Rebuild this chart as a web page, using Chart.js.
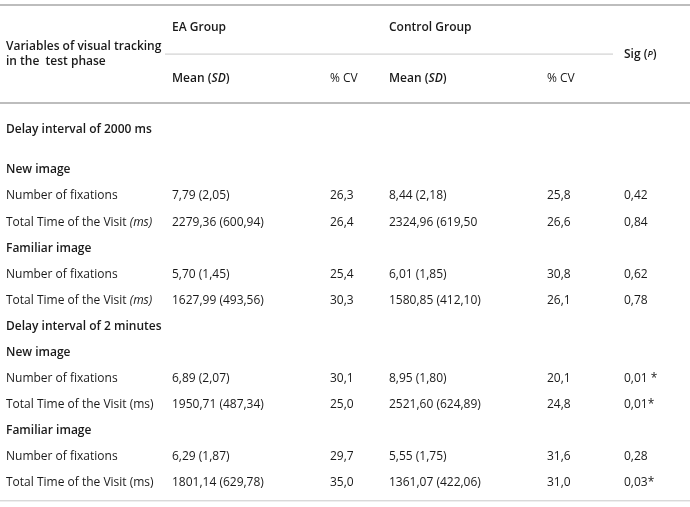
<!DOCTYPE html>
<html><head><meta charset="utf-8">
<script src="https://cdn.jsdelivr.net/npm/chart.js@4"></script>
<style>html,body{margin:0;padding:0;background:#fff}</style>
</head><body>
<canvas id="c" width="690" height="507"></canvas>
<script>
// Data (row index along a linear "row" axis; column = x position along a linear "column" axis)
const rowLabels = ["New image","Number of fixations","Total Time of the Visit (ms)","Familiar image","Number of fixations","Total Time of the Visit (ms)","Delay interval of 2 minutes","New image","Number of fixations","Total Time of the Visit (ms)","Familiar image","Number of fixations","Total Time of the Visit (ms)"];
const rowBold = [true,false,false,true,false,false,true,true,false,false,true,false,false];
const eaMean = ["","7,79 (2,05)","2279,36 (600,94)","","5,70 (1,45)","1627,99 (493,56)","","","6,89 (2,07)","1950,71 (487,34)","","6,29 (1,87)","1801,14 (629,78)"];
const eaCV = ["","26,3","26,4","","25,4","30,3","","","30,1","25,0","","29,7","35,0"];
const ctrlMean = ["","8,44 (2,18)","2324,96 (619,50","","6,01 (1,85)","1580,85 (412,10)","","","8,95 (1,80)","2521,60 (624,89)","","5,55 (1,75)","1361,07 (422,06)"];
const ctrlCV = ["","25,8","26,6","","30,8","26,1","","","20,1","24,8","","31,6","31,0"];
const sig = ["","0,42","0,84","","0,62","0,78","","","0,01 *","0,01*","","0,28","0,03*"];
const colX = [6,172,330,389,547,624];

const FF='"Open Sans", "Liberation Sans", Arial, sans-serif';
const tablePlugin = {
  id:'table',
  afterDraw(chart){
    const ctx=chart.ctx, xs=chart.scales.x, ys=chart.scales.y;
    const X=v=>xs.getPixelForValue(v), Y=v=>ys.getPixelForValue(v);
    const reg='12px '+FF, bold='600 12px '+FF, ital='italic 12px '+FF;
    ctx.save();
    ctx.textBaseline='middle';ctx.fillStyle='#1a1a1a';
    const t=(s,x,y,f)=>{ctx.font=f;ctx.fillText(s,x,y);};
    ctx.strokeStyle='#bdbdbd';ctx.lineWidth=2;
    [[-6.33,0,690],[-2.57,0,690]].forEach(([r,a,b])=>{ctx.beginPath();ctx.moveTo(X(a),Y(r));ctx.lineTo(X(b),Y(r));ctx.stroke();});
    ctx.lineWidth=1;ctx.strokeStyle='#c8c8c8';
    [[-4.45,165,613],[12.7,0,690]].forEach(([r,a,b])=>{ctx.beginPath();ctx.moveTo(X(a),Y(r));ctx.lineTo(X(b),Y(r));ctx.stroke();});
    t("EA Group",X(colX[1]),Y(-5.46),bold);
    t("Control Group",X(colX[3]),Y(-5.46),bold);
    t("Variables of visual tracking",X(colX[0]),Y(-4.73),bold);
    t("in the  test phase",X(colX[0]),Y(-4.15),bold);
    ctx.font=bold;let sx=X(colX[5]);ctx.fillText("Sig (",sx,Y(-4.45));sx+=ctx.measureText("Sig (").width;
    ctx.font='italic 600 9px '+FF;ctx.fillText("P",sx,Y(-4.45));sx+=ctx.measureText("P").width;
    ctx.font=bold;ctx.fillText(")",sx,Y(-4.45));
    [colX[1],colX[3]].forEach(cx=>{let x=X(cx);ctx.font=bold;ctx.fillText("Mean (",x,Y(-3.5));x+=ctx.measureText("Mean (").width;
      ctx.font='italic 600 12px '+FF;ctx.fillText("SD",x,Y(-3.5));x+=ctx.measureText("SD").width;
      ctx.font=bold;ctx.fillText(")",x,Y(-3.5));});
    t("% CV",X(colX[2]),Y(-3.5),reg);t("% CV",X(colX[4]),Y(-3.5),reg);
    t("Delay interval of 2000 ms",X(colX[0]),Y(-1.54),bold);
    rowLabels.forEach((lab,i)=>{
      const y=Y(i);
      if(!rowBold[i] && lab.endsWith("(ms)") && i<6){
        const base="Total Time of the Visit ";ctx.font=reg;ctx.fillText(base,X(colX[0]),y);
        const w=ctx.measureText(base).width;ctx.font=ital;ctx.fillText("(ms)",X(colX[0])+w,y);
      } else t(lab,X(colX[0]),y,rowBold[i]?bold:reg);
      t(eaMean[i],X(colX[1]),y,reg);t(eaCV[i],X(colX[2]),y,reg);
      t(ctrlMean[i],X(colX[3]),y,reg);t(ctrlCV[i],X(colX[4]),y,reg);t(sig[i],X(colX[5]),y,reg);
    });
    ctx.restore();
  }
};
new Chart(document.getElementById('c'),{
  type:'scatter',
  data:{datasets:[{data:[]}]},
  options:{responsive:false,animation:false,
    layout:{padding:0},
    plugins:{legend:{display:false},tooltip:{enabled:false}},
    scales:{x:{type:'linear',min:0,max:690,display:false},
            y:{type:'linear',min:-6.526,max:12.937,reverse:true,display:false}}},
  plugins:[tablePlugin]
});
</script></body></html>
